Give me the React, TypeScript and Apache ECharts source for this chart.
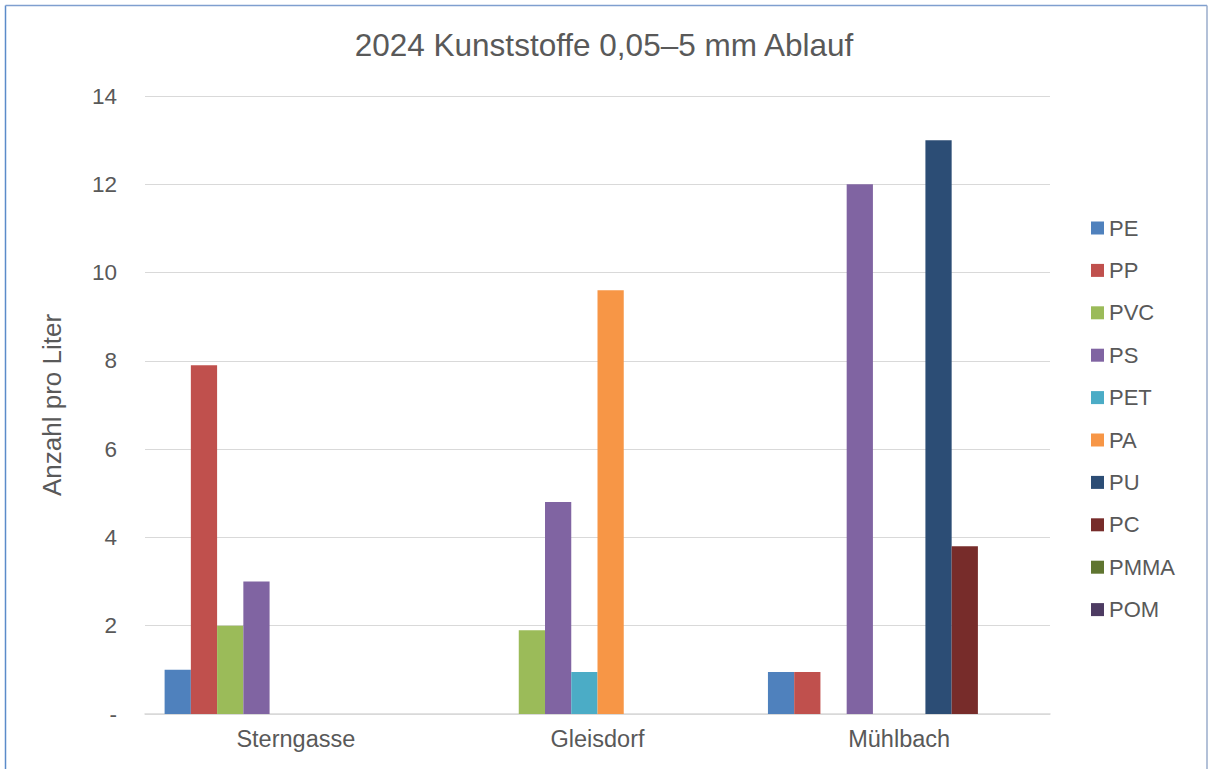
import React, { useEffect, useRef } from "react";
import * as echarts from "echarts";

const categories = ["Sterngasse", "Gleisdorf", "Mühlbach"];
const seriesNames = ["PE", "PP", "PVC", "PS", "PET", "PA", "PU", "PC", "PMMA", "POM"];
const PE = [1, 0, 0.95];
const PP = [7.9, 0, 0.95];
const PVC = [2, 1.9, 0];
const PS = [3, 4.8, 12];
const PET = [0, 0.95, 0];
const PA = [0, 9.6, 0];
const PU = [0, 0, 13];
const PC = [0, 0, 3.8];
const PMMA = [0, 0, 0];
const POM = [0, 0, 0];
const seriesValues = [PE, PP, PVC, PS, PET, PA, PU, PC, PMMA, POM];
const colors = ["#4f81bd", "#c0504d", "#9bbb59", "#8064a2", "#4bacc6", "#f79646", "#2c4d75", "#772c2a", "#5f7530", "#4d3b62"];

export default function App() {
  const ref = useRef<HTMLDivElement>(null);
  useEffect(() => {
    const chart = echarts.init(ref.current!, null, { renderer: "svg" });
    const font = "Liberation Sans, Arial, sans-serif";
    chart.setOption({
      animation: false,
      color: colors,
      textStyle: { fontFamily: font },
      title: {
        text: "2024 Kunststoffe 0,05–5 mm Ablauf",
        left: "center",
        top: 24,
        textStyle: { fontFamily: font, fontSize: 31.5, fontWeight: "normal", color: "#595959" },
      },
      legend: {
        orient: "vertical",
        left: 1086,
        top: 212,
        itemWidth: 13,
        itemHeight: 13,
        itemGap: 20.4,
        icon: "rect",
        data: seriesNames,
        textStyle: { fontFamily: font, fontSize: 22, color: "#595959" },
      },
      grid: { left: 145, right: 158, top: 96, bottom: 55, containLabel: false },
      xAxis: {
        type: "category",
        data: categories,
        axisLine: { lineStyle: { color: "#d9d9d9", width: 1.5 } },
        axisTick: { show: false },
        axisLabel: { fontFamily: font, fontSize: 23.5, color: "#595959", margin: 13 },
      },
      yAxis: {
        type: "value",
        min: 0,
        max: 14,
        interval: 2,
        name: "Anzahl pro Liter",
        nameLocation: "middle",
        nameGap: 80,
        nameTextStyle: { fontFamily: font, fontSize: 26, color: "#595959" },
        axisLine: { show: false },
        axisTick: { show: false },
        splitLine: { lineStyle: { color: "#d9d9d9", width: 1 } },
        axisLabel: {
          fontFamily: font,
          fontSize: 22.5,
          color: "#595959",
          margin: 28,
          formatter: (v: number) => (v === 0 ? "-" : String(v)),
        },
      },
      series: seriesNames.map((name, i) => ({
        name,
        type: "bar",
        data: seriesValues[i],
        barGap: "0%",
        barCategoryGap: "13%",
      })),
      graphic: [
        { type: "line", shape: { x1: 5.5, y1: 5.5, x2: 5.5, y2: 769 }, style: { stroke: "#5b8bc9", lineWidth: 1.5 } },
        { type: "line", shape: { x1: 5.5, y1: 5.5, x2: 1207, y2: 5.5 }, style: { stroke: "#7f9fcf", lineWidth: 1.5 } },
        { type: "line", shape: { x1: 1207, y1: 5.5, x2: 1207, y2: 769 }, style: { stroke: "#9aaccb", lineWidth: 1.5 } },
      ],
    });
    return () => chart.dispose();
  }, []);
  return (
    <div
      ref={ref}
      style={{ position: "fixed", left: 0, top: 0, width: 1208, height: 769, background: "#ffffff" }}
    />
  );
}
